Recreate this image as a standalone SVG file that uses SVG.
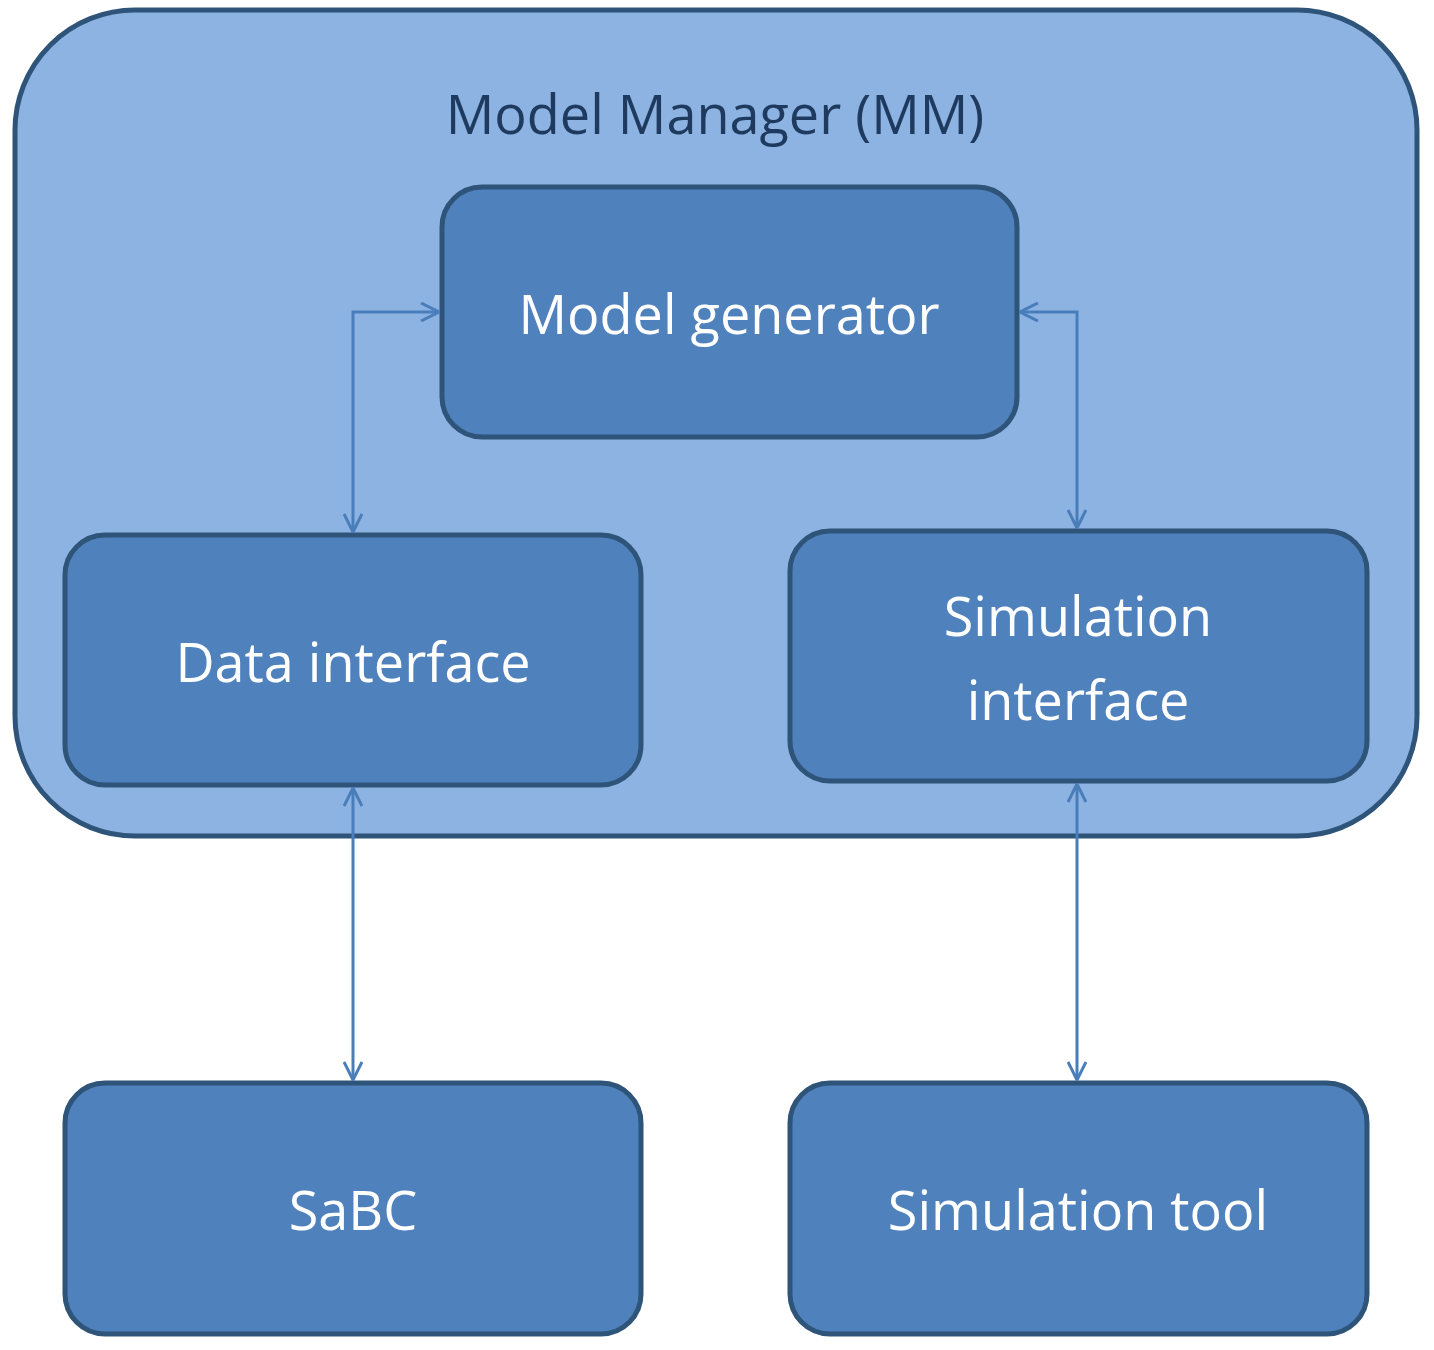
<svg xmlns="http://www.w3.org/2000/svg" width="1434" height="1350" viewBox="0 0 1434 1350">
<style>
.box{fill:#4f81bd;stroke:#2f5479;stroke-width:5}
.t{font-family:"Open Sans","Noto Sans",sans-serif;font-size:54px;fill:#fff;text-anchor:middle}
.c{fill:none;stroke:#4a7ebb;stroke-width:3}
</style>
<defs>
<marker id="a" viewBox="0 0 20 20" refX="19" refY="10" markerWidth="20" markerHeight="20" markerUnits="userSpaceOnUse" orient="auto-start-reverse">
<path d="M1,1 L19,10 L1,19" fill="none" stroke="#4a7ebb" stroke-width="3"/>
</marker>
</defs>
<rect width="1434" height="1350" fill="#fff"/>
<g id="mm">
<rect x="15" y="10" width="1402" height="826" rx="120" fill="#8db3e2" stroke="#2f5479" stroke-width="5"/>
<text x="715" y="134" class="t" style="fill:#1f3a5f">Model Manager (MM)</text>
</g>
<g id="gen"><rect class="box" x="442" y="187" width="575" height="250" rx="40"/><text class="t" x="729" y="334">Model generator</text></g>
<g id="data"><rect class="box" x="65" y="535" width="576" height="250" rx="40"/><text class="t" x="353" y="682">Data interface</text></g>
<g id="sim"><rect class="box" x="790" y="531" width="577" height="250" rx="40"/><text class="t" x="1078" y="636">Simulation</text><text class="t" x="1078" y="720">interface</text></g>
<g id="sabc"><rect class="box" x="65" y="1083" width="576" height="251" rx="40"/><text class="t" x="353" y="1230">SaBC</text></g>
<g id="tool"><rect class="box" x="790" y="1083" width="577" height="251" rx="40"/><text class="t" x="1078" y="1230">Simulation tool</text></g>
<g id="connectors">
<path class="c" d="M353,532 V312 H439" marker-start="url(#a)" marker-end="url(#a)"/>
<path class="c" d="M1020,312 H1077 V528" marker-start="url(#a)" marker-end="url(#a)"/>
<path class="c" d="M353,788 V1080" marker-start="url(#a)" marker-end="url(#a)"/>
<path class="c" d="M1077,784 V1080" marker-start="url(#a)" marker-end="url(#a)"/>
</g>
</svg>
